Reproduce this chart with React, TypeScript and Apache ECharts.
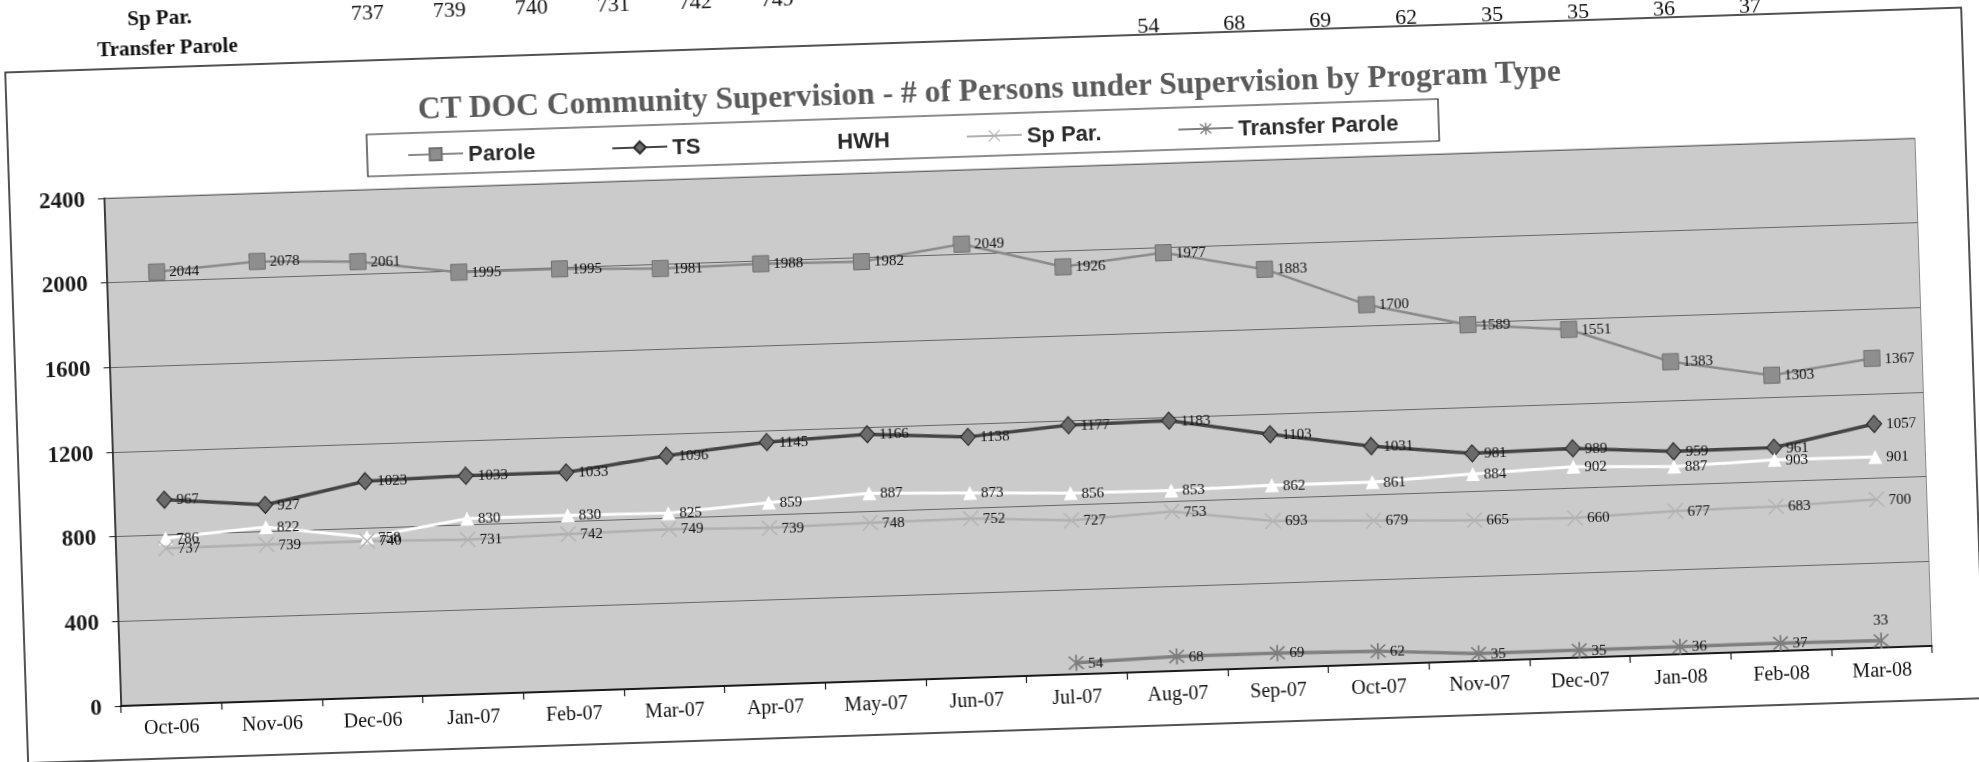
import React, { useEffect, useRef } from "react";
import * as echarts from "echarts";

const months = ["Oct-06","Nov-06","Dec-06","Jan-07","Feb-07","Mar-07","Apr-07","May-07","Jun-07","Jul-07","Aug-07","Sep-07","Oct-07","Nov-07","Dec-07","Jan-08","Feb-08","Mar-08"];
const parole = [2044,2078,2061,1995,1995,1981,1988,1982,2049,1926,1977,1883,1700,1589,1551,1383,1303,1367];
const ts = [967,927,1023,1033,1033,1096,1145,1166,1138,1177,1183,1103,1031,981,989,959,961,1057];
const hwh = [786,822,758,830,830,825,859,887,873,856,853,862,861,884,902,887,903,901];
const spPar = [737,739,740,731,742,749,739,748,752,727,753,693,679,665,660,677,683,700];
const transferParole: (number | null)[] = [null,null,null,null,null,null,null,null,null,54,68,69,62,35,35,36,37,33];
const yMin = 0;
const yMax = 2400;
const yStep = 400;

// fragment of the table printed above the chart (cut off by the scan)
const tableSpParValues = spPar.slice(0, 6);
const tableTransferValues = transferParole.slice(9, 17) as number[];

const TITLE = "CT DOC Community Supervision - # of Persons under Supervision by Program Type";

const ASTERISK = "path://M9,0 H11 V20 H9 Z M1.4,2.8 L2.8,1.4 L18.6,17.2 L17.2,18.6 Z M17.2,1.4 L18.6,2.8 L2.8,18.6 L1.4,17.2 Z";
const XMARK = "path://M2,3 L3,2 L18,17 L17,18 Z M17,2 L18,3 L3,18 L2,17 Z";

const OX = 60;
const OY = 60;

export default function App() {
  const ref = useRef<HTMLDivElement>(null);
  useEffect(() => {
    if (!ref.current) return;
    const chart = echarts.init(ref.current, null, { renderer: "svg" });
    const serif = "'Liberation Serif', 'Times New Roman', serif";
    const sans = "'Liberation Sans', Arial, sans-serif";
    const dataLabel = {
      show: true,
      position: "right" as const,
      distance: 4,
      fontFamily: serif,
      fontSize: 15,
      color: "#111",
    };
    const graphics: any[] = [
      {
        type: "rect",
        z: 0,
        shape: { x: 16 + OX, y: 40 + OY, width: 1957, height: 691 },
        style: { fill: "none", stroke: "#1a1a1a", lineWidth: 1.5 },
      },
      {
        type: "rect",
        z: 0,
        shape: { x: 375 + OX, y: 114 + OY, width: 1072, height: 42 },
        style: { fill: "#fff", stroke: "#1a1a1a", lineWidth: 1.2 },
      },
      {
        type: "text",
        x: 172 + OX,
        y: -10 + OY,
        style: { text: "Sp Par.", font: `bold 21px ${serif}`, fill: "#111", align: "center", verticalAlign: "middle" },
      },
      {
        type: "text",
        x: 179 + OX,
        y: 20 + OY,
        style: { text: "Transfer Parole", font: `bold 21px ${serif}`, fill: "#111", align: "center", verticalAlign: "middle" },
      },
    ];
    tableSpParValues.forEach((v, i) => {
      graphics.push({
        type: "text",
        x: 380 + OX + i * 82,
        y: -9 + OY,
        style: { text: String(v), font: `22px ${serif}`, fill: "#111", align: "center", verticalAlign: "middle" },
      });
    });
    tableTransferValues.forEach((v, i) => {
      graphics.push({
        type: "text",
        x: 1160 + OX + i * 86,
        y: 30 + OY,
        style: { text: String(v), font: `22px ${serif}`, fill: "#111", align: "center", verticalAlign: "middle" },
      });
    });

    const lastIdx = transferParole.length - 1;
    const transferData = transferParole.map((v, i) =>
      i === lastIdx ? { value: v, label: { position: "top" as const, distance: 6 } } : v
    );

    chart.setOption({
      animation: false,
      backgroundColor: "#ffffff",
      title: {
        text: TITLE,
        left: 999 + OX,
        top: 73 + OY,
        textAlign: "center",
        padding: 0,
        textStyle: { fontFamily: serif, fontWeight: "bold", fontSize: 31.5, color: "#5a5a5a" },
      },
      legend: {
        left: 415 + OX,
        top: 124 + OY,
        padding: 0,
        itemGap: 76,
        itemWidth: 55,
        itemHeight: 15,
        textStyle: { fontFamily: sans, fontWeight: "bold", fontSize: 22, color: "#2a2a2a", lineHeight: 24 },
        data: ["Parole", "TS", "HWH", "Sp Par.", "Transfer Parole"],
      },
      grid: {
        left: 110.5 + OX,
        top: 169 + OY,
        width: 1812,
        height: 508,
        show: true,
        backgroundColor: "#cbcbcb",
        borderColor: "#8a8a8a",
        borderWidth: 1,
      },
      xAxis: {
        type: "category",
        data: months,
        boundaryGap: true,
        axisLine: { lineStyle: { color: "#1a1a1a", width: 2 } },
        axisTick: { show: true, length: 7, lineStyle: { color: "#1a1a1a", width: 1.2 } },
        axisLabel: { interval: 0, fontFamily: serif, fontSize: 20, color: "#111", margin: 12 },
        splitLine: { show: false },
      },
      yAxis: {
        type: "value",
        min: yMin,
        max: yMax,
        interval: yStep,
        axisLine: { show: true, lineStyle: { color: "#1a1a1a", width: 1.5 } },
        axisTick: { show: true, length: 6, lineStyle: { color: "#1a1a1a" } },
        axisLabel: {
          fontFamily: serif,
          fontWeight: "bold",
          fontSize: 23,
          color: "#1a1a1a",
          margin: 19,
          formatter: (v: number) => String(v),
        },
        splitLine: { show: true, lineStyle: { color: "#666", width: 1 } },
      },
      graphic: graphics,
      series: [
        {
          name: "Parole",
          type: "line",
          data: parole,
          symbol: "rect",
          symbolSize: 16,
          lineStyle: { color: "#8a8a8a", width: 2.5 },
          itemStyle: { color: "#8e8e8e", borderColor: "#6f6f6f", borderWidth: 1 },
          label: dataLabel,
          emphasis: { disabled: true },
        },
        {
          name: "TS",
          type: "line",
          data: ts,
          symbol: "diamond",
          symbolSize: [15, 17],
          lineStyle: { color: "#444", width: 3.5 },
          itemStyle: { color: "#6b6b6b", borderColor: "#2b2b2b", borderWidth: 1.2 },
          label: dataLabel,
          emphasis: { disabled: true },
        },
        {
          name: "HWH",
          type: "line",
          data: hwh,
          symbol: "triangle",
          symbolSize: 14,
          lineStyle: { color: "#ffffff", width: 3 },
          itemStyle: { color: "#ffffff" },
          label: dataLabel,
          emphasis: { disabled: true },
        },
        {
          name: "Sp Par.",
          type: "line",
          data: spPar,
          symbol: XMARK,
          symbolSize: 16,
          lineStyle: { color: "#b0b0b0", width: 2.5 },
          itemStyle: { color: "#b3b3b3" },
          label: dataLabel,
          emphasis: { disabled: true },
        },
        {
          name: "Transfer Parole",
          type: "line",
          data: transferData,
          connectNulls: false,
          symbol: ASTERISK,
          symbolSize: 16,
          lineStyle: { color: "#808080", width: 3.5 },
          itemStyle: { color: "#7d7d7d" },
          label: dataLabel,
          emphasis: { disabled: true },
        },
      ],
    });
    return () => chart.dispose();
  }, []);

  return (
    <div
      ref={ref}
      style={{
        position: "fixed",
        left: -OX,
        top: -OY,
        width: 1979 + 2 * OX,
        height: 762 + 2 * OY,
        transform: "rotate(-1.9deg)",
        background: "#fff",
      }}
    />
  );
}
